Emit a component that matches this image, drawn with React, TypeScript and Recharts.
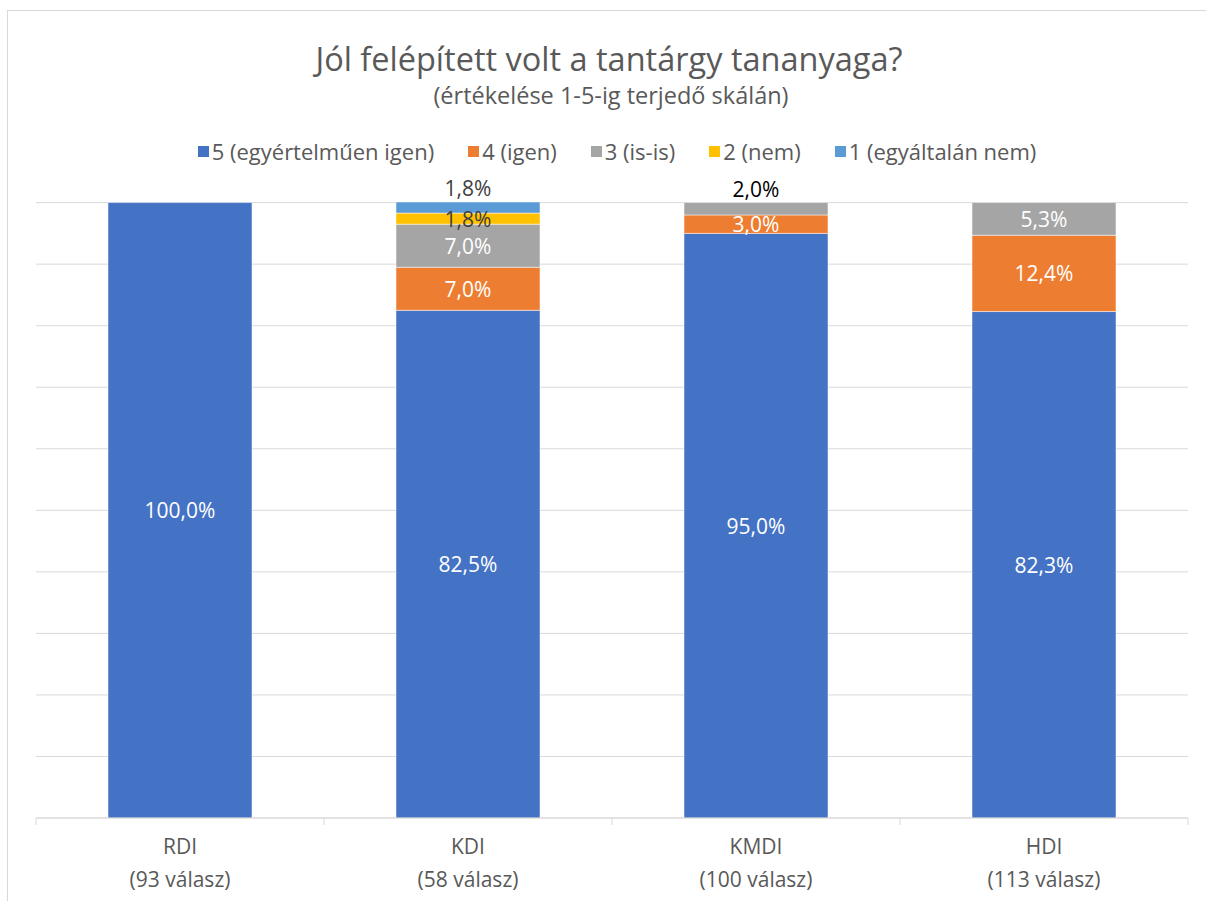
import React from 'react';
import { BarChart, Bar, XAxis, YAxis, CartesianGrid, LabelList } from 'recharts';

const categories = ['RDI', 'KDI', 'KMDI', 'HDI'];
const responses = [93, 58, 100, 113];
const series5 = [100.0, 82.5, 95.0, 82.3];
const series4 = [0, 7.0, 3.0, 12.4];
const series3 = [0, 7.0, 2.0, 5.3];
const series2 = [0, 1.8, 0, 0];
const series1 = [0, 1.8, 0, 0];
const yTicks = [0, 10, 20, 30, 40, 50, 60, 70, 80, 90, 100];

const FONT = '"Open Sans", "Noto Sans", sans-serif';
const TEXT = '#595959';
const GRID = '#d9d9d9';

const W = 1206;
const H = 901;
const PLOT_LEFT = 36;
const PLOT_RIGHT = 1188;
const BAND = (PLOT_RIGHT - PLOT_LEFT) / categories.length;

const seriesList = [
  { key: 's5', name: '5 (egyértelműen igen)', color: '#4472c4', values: series5, inner: '#ffffff', outer: '#404040' },
  { key: 's4', name: '4 (igen)', color: '#ed7d31', values: series4, inner: '#ffffff', outer: '#404040' },
  { key: 's3', name: '3 (is-is)', color: '#a5a5a5', values: series3, inner: '#ffffff', outer: '#000000' },
  { key: 's2', name: '2 (nem)', color: '#ffc000', values: series2, inner: '#404040', outer: '#404040' },
  { key: 's1', name: '1 (egyáltalán nem)', color: '#5b9bd5', values: series1, inner: '#ffffff', outer: '#404040' },
];

const data = categories.map((name, i) => {
  const row: any = { name, responses: responses[i] };
  seriesList.forEach(s => { row[s.key] = s.values[i]; });
  return row;
});

const fmt = (v: number) => `${v.toFixed(1).replace('.', ',')}%`;

// label inside the segment, or above the bar when the top segment is too thin
const makeLabel = (seriesIdx: number) => (props: any) => {
  const s = seriesList[seriesIdx];
  const value = Number(props.value);
  if (!value) return null;
  const x = Number(props.x);
  const y = Number(props.y);
  const width = Number(props.width);
  const height = Number(props.height);
  const cx = x + width / 2;
  // which category this bar sits in (LabelList index skips empty bars)
  const cat = Math.floor((cx - PLOT_LEFT) / BAND);
  const isTop = seriesList.slice(seriesIdx + 1).every(o => !o.values[cat]);
  const outside = isTop && Math.abs(height) < 16;
  return (
    <text
      x={cx}
      y={outside ? y - 14 : y + height / 2}
      fill={outside ? s.outer : s.inner}
      textAnchor="middle"
      dominantBaseline="central"
      fontFamily={FONT}
      fontSize={21}
    >
      {fmt(value)}
    </text>
  );
};

const CategoryTick = (props: any) => {
  const { x, y, payload, index } = props;
  const half = BAND / 2;
  const last = index === categories.length - 1;
  return (
    <g>
      <line x1={x - half} x2={x - half} y1={y} y2={y + 7} stroke={GRID} />
      {last && <line x1={x + half} x2={x + half} y1={y} y2={y + 7} stroke={GRID} />}
      <text x={x} y={y + 28} textAnchor="middle" dominantBaseline="central" fill={TEXT} fontFamily={FONT} fontSize={21}>
        {payload.value}
      </text>
      <text x={x} y={y + 61} textAnchor="middle" dominantBaseline="central" fill={TEXT} fontFamily={FONT} fontSize={21}>
        {`(${responses[index]} válasz)`}
      </text>
    </g>
  );
};

export default function App() {
  return (
    <div style={{ position: 'relative', width: W, height: H, overflow: 'hidden', background: '#fff', fontFamily: FONT }}>
      <style>{'body{margin:0}'}</style>
      <div style={{ position: 'absolute', left: 7, top: 10, width: W, height: H + 50, border: `1px solid ${GRID}` }} />
      <div style={{ position: 'absolute', left: 0, top: 35, width: 1218, textAlign: 'center', color: TEXT, fontSize: 32.5, lineHeight: '48px' }}>
        Jól felépített volt a tantárgy tananyaga?
      </div>
      <div style={{ position: 'absolute', left: 0, top: 79, width: 1222, textAlign: 'center', color: TEXT, fontSize: 23.5, lineHeight: '32px' }}>
        (értékelése 1-5-ig terjedő skálán)
      </div>
      <div style={{ position: 'absolute', left: 0, top: 135, width: 1234, display: 'flex', justifyContent: 'center', color: TEXT, fontSize: 22, lineHeight: '32px' }}>
        {seriesList.map(s => (
          <div key={s.key} style={{ display: 'flex', alignItems: 'center', margin: '0 17px' }}>
            <span style={{ display: 'inline-block', width: 11, height: 11, background: s.color, marginRight: 3 }} />
            <span>{s.name}</span>
          </div>
        ))}
      </div>
      <div style={{ position: 'absolute', left: 0, top: 0 }}>
        <BarChart
          width={W}
          height={H}
          data={data}
          margin={{ top: 202, right: W - PLOT_RIGHT, bottom: 23, left: PLOT_LEFT }}
          barCategoryGap="25%"
        >
          <CartesianGrid vertical={false} stroke={GRID} horizontalValues={yTicks} />
          <YAxis hide domain={[0, 100]} ticks={yTicks} />
          <XAxis
            dataKey="name"
            height={60}
            axisLine={{ stroke: GRID }}
            tickLine={false}
            tickSize={0}
            tickMargin={0}
            tick={<CategoryTick />}
            interval={0}
          />
          {seriesList.map((s, i) => (
            <Bar key={s.key} dataKey={s.key} name={s.name} stackId="a" fill={s.color} stroke="#ffffff" strokeWidth={0.5} isAnimationActive={false}>
              <LabelList dataKey={s.key} content={makeLabel(i)} />
            </Bar>
          ))}
        </BarChart>
      </div>
    </div>
  );
}
